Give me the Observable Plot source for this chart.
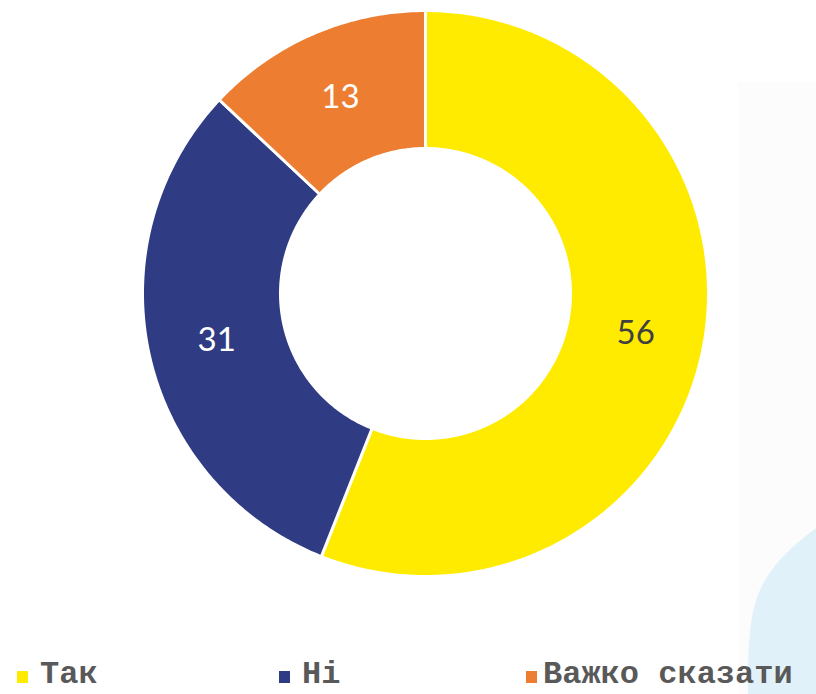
<!DOCTYPE html>
<html>
<head>
<meta charset="utf-8">
<script src="https://cdn.jsdelivr.net/npm/d3@7"></script>
<script src="https://cdn.jsdelivr.net/npm/@observablehq/plot@0.6"></script>
<style>
  html, body { margin: 0; padding: 0; background: #fff; }
  #wrap { position: relative; width: 816px; height: 694px; overflow: hidden; }
  .bgpanel { position: absolute; left: 738px; top: 82px; width: 78px; height: 612px; background: #fcfcfc; }
  .blob { position: absolute; left: 0; top: 0; width: 816px; height: 694px; }
  #chart { position: absolute; left: 0; top: 0; }
  #chart svg { background: transparent !important; }
  .legend { position: absolute; top: 657px; left: 0; width: 816px; height: 36px; font-family: "Liberation Mono", "DejaVu Sans Mono", monospace; font-weight: bold; font-size: 32px; color: #595959; }
  .legend .sw { position: absolute; top: 14px; width: 11px; height: 12px; }
  .legend .lb { position: absolute; top: 0; line-height: 36px; white-space: nowrap; }
</style>
</head>
<body>
<div id="wrap">
  <div class="bgpanel"></div>
  <svg class="blob" width="816" height="694"><path d="M816,528 C795,544 772,563 760,590 C750,612 748,640 748,694 L816,694 Z" fill="#e1f1fa"/></svg>
  <div id="chart"></div>
  <div class="legend" id="legend"></div>
</div>
<script>
const categories = ["Так", "Ні", "Важко сказати"];
const values = [56, 31, 13];
const colors = ["#FFEB00", "#2F3B82", "#ED7D31"];
const labelColors = ["#404040", "#ffffff", "#ffffff"];

const innerRatio = 145 / 283;

// Build ring sectors (unit coordinates) from the data via d3.pie
const pie = d3.pie().sort(null).value(d => d.value);
const data = categories.map((c, i) => ({category: c, value: values[i], color: colors[i], labelColor: labelColors[i]}));
const arcs = pie(data);

function pt(r, a) { return [r * Math.sin(a), r * Math.cos(a)]; } // y up, angle clockwise from top
function sector(a0, a1) {
  const n = Math.max(8, Math.ceil((a1 - a0) / 0.01));
  const outer = d3.range(n + 1).map(k => pt(1, a0 + (a1 - a0) * k / n));
  const inner = d3.range(n + 1).map(k => pt(innerRatio, a1 - (a1 - a0) * k / n));
  const ring = outer.concat(inner);
  ring.push(ring[0]);
  return ring;
}
const features = arcs.map(a => ({
  type: "Feature",
  properties: {category: a.data.category, color: a.data.color},
  geometry: {type: "Polygon", coordinates: [sector(a.startAngle, a.endAngle)]}
}));
const labels = arcs.map(a => {
  const m = (a.startAngle + a.endAngle) / 2;
  const r = (1 + innerRatio) / 2;
  const [x, y] = pt(r, m);
  return {x, y, text: String(a.data.value), color: a.data.labelColor};
});
const outline = {type: "Polygon", coordinates: [d3.range(0, 361, 2).map(d => pt(1, d * Math.PI / 180))]};

const chart = Plot.plot({
  width: 816,
  height: 650,
  marginLeft: 142,
  marginRight: 108,
  marginTop: 10,
  marginBottom: 74,
  projection: {type: "reflect-y", domain: outline},
  marks: [
    Plot.geo(features, {fill: d => d.properties.color, stroke: "#ffffff", strokeWidth: 3}),
    Plot.text(labels, {x: "x", y: "y", text: "text", fill: "color", fontSize: 33, fontFamily: "Lato, 'Open Sans', sans-serif"})
  ]
});
document.getElementById("chart").appendChild(chart);

// Legend
const legendPos = [[17, 40], [279, 302], [526, 543]];
const legend = document.getElementById("legend");
categories.forEach((c, i) => {
  const sw = document.createElement("div");
  sw.className = "sw";
  sw.style.left = legendPos[i][0] + "px";
  sw.style.background = colors[i];
  legend.appendChild(sw);
  const lb = document.createElement("div");
  lb.className = "lb";
  lb.style.left = legendPos[i][1] + "px";
  lb.textContent = c;
  legend.appendChild(lb);
});
</script>
</body>
</html>
